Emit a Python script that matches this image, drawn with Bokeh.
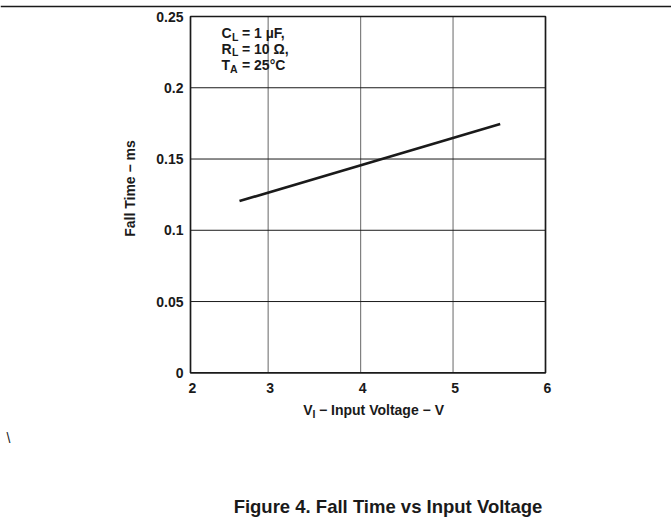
import math
from bokeh.plotting import figure
from bokeh.models import Range1d, Label, Span, ColumnDataSource
from bokeh.core.properties import value
from bokeh.embed import file_html
from bokeh.resources import INLINE

# ---- data ----
voltage = [2.69, 5.51]          # V_I (V)
fall_time = [0.1205, 0.1745]    # ms
x_ticks = [2.16, 3, 4, 5, 6]    # left edge of the grid is labelled "2"
x_tick_labels = ["2", "3", "4", "5", "6"]
y_ticks = [0, 0.05, 0.1, 0.15, 0.2, 0.25]
y_tick_labels = ["0", "0.05", "0.1", "0.15", "0.2", "0.25"]

FONT = "Liberation Sans"
INK = "#1a1a1a"
W, H = 671, 518

# plot box placement on the page (pixels)
BOX_L, BOX_R, BOX_T, BOX_B = 190.0, 545.0, 16.0, 372.3
kx = (BOX_R - BOX_L) / (x_ticks[-1] - x_ticks[0])
ky = (BOX_B - BOX_T) / (y_ticks[-1] - y_ticks[0])
x0 = x_ticks[0] - BOX_L / kx
y1 = y_ticks[-1] + BOX_T / ky

p = figure(width=W, height=H, output_backend="svg", toolbar_location=None,
           x_range=Range1d(x0, x0 + W / kx), y_range=Range1d(y1 - H / ky, y1),
           x_axis_location=None, y_axis_location=None, min_border=0)
p.outline_line_color = None
p.background_fill_color = "white"
p.border_fill_color = "white"
p.grid.visible = False

# grid lines from tick arrays
p.segment(x0=x_ticks[1:-1], x1=x_ticks[1:-1],
          y0=[y_ticks[0]] * 3, y1=[y_ticks[-1]] * 3,
          line_color="#808080", line_width=1.2)
p.segment(x0=[x_ticks[0]] * 4, x1=[x_ticks[-1]] * 4,
          y0=y_ticks[1:-1], y1=y_ticks[1:-1],
          line_color=INK, line_width=1.0)
# plot box
p.quad(left=[x_ticks[0]], right=[x_ticks[-1]], bottom=[y_ticks[0]], top=[y_ticks[-1]],
       fill_color=None, line_color=INK, line_width=1.7)

# data line
p.line(voltage, fall_time, line_color=INK, line_width=2.6)

# tick labels
xs = ColumnDataSource(dict(x=x_ticks, y=[y_ticks[0]] * len(x_ticks), t=x_tick_labels))
p.text(x="x", y="y", text="t", source=xs, x_offset=2, y_offset=15,
       text_align="center", text_baseline="middle", text_font=value(FONT),
       text_font_style="bold", text_font_size="14px", text_color=INK)
ys = ColumnDataSource(dict(x=[x_ticks[0]] * len(y_ticks), y=y_ticks, t=y_tick_labels))
p.text(x="x", y="y", text="t", source=ys, x_offset=-7, y_offset=0,
       text_align="right", text_baseline="middle", text_font=value(FONT),
       text_font_style="bold", text_font_size="14px", text_color=INK)


def lab(text, px, py, size="14px", align="left", angle=0.0, style="bold"):
    # py is the vertical centre of the capitals on the page
    p.add_layout(Label(x=px, y=H - py, x_units="screen", y_units="screen",
                       text=text, text_font=FONT, text_font_style=style,
                       text_font_size=size, text_color=INK,
                       text_align=align, text_baseline="middle", angle=angle))


SUB = 3.8
# annotation block
lab("C", 221, 32.7)
lab("L", 231.5, 32.7 + SUB, size="10.5px")
lab("= 1  µF,", 241.5, 32.7)
lab("R", 221, 48.0)
lab("L", 231.5, 48.0 + SUB, size="10.5px")
lab("= 10 Ω,", 241.5, 48.0)
lab("T", 221, 64.3)
lab("A", 229.6, 64.3 + SUB, size="10.5px")
lab("= 25°C", 241.5, 64.3)

# y axis title
lab("Fall Time − ms", 129.5, 188, align="center", angle=math.pi / 2)

# x axis title
lab("V", 302.7, 409.2)
lab("I", 312, 409.2 + SUB, size="10.5px")
lab("− Input Voltage − V", 318.5, 409.2)

# stray backslash
lab("\\", 6, 437, size="14px", style="normal")

# caption
lab("Figure 4. Fall Time vs Input Voltage", 387.5, 506.3, size="18.5px",
    align="center")

# top rule
p.add_layout(Span(location=H - 6, location_units="screen", dimension="width",
                  line_color=INK, line_width=1.5))

open("out.html", "w").write(file_html(p, INLINE))
